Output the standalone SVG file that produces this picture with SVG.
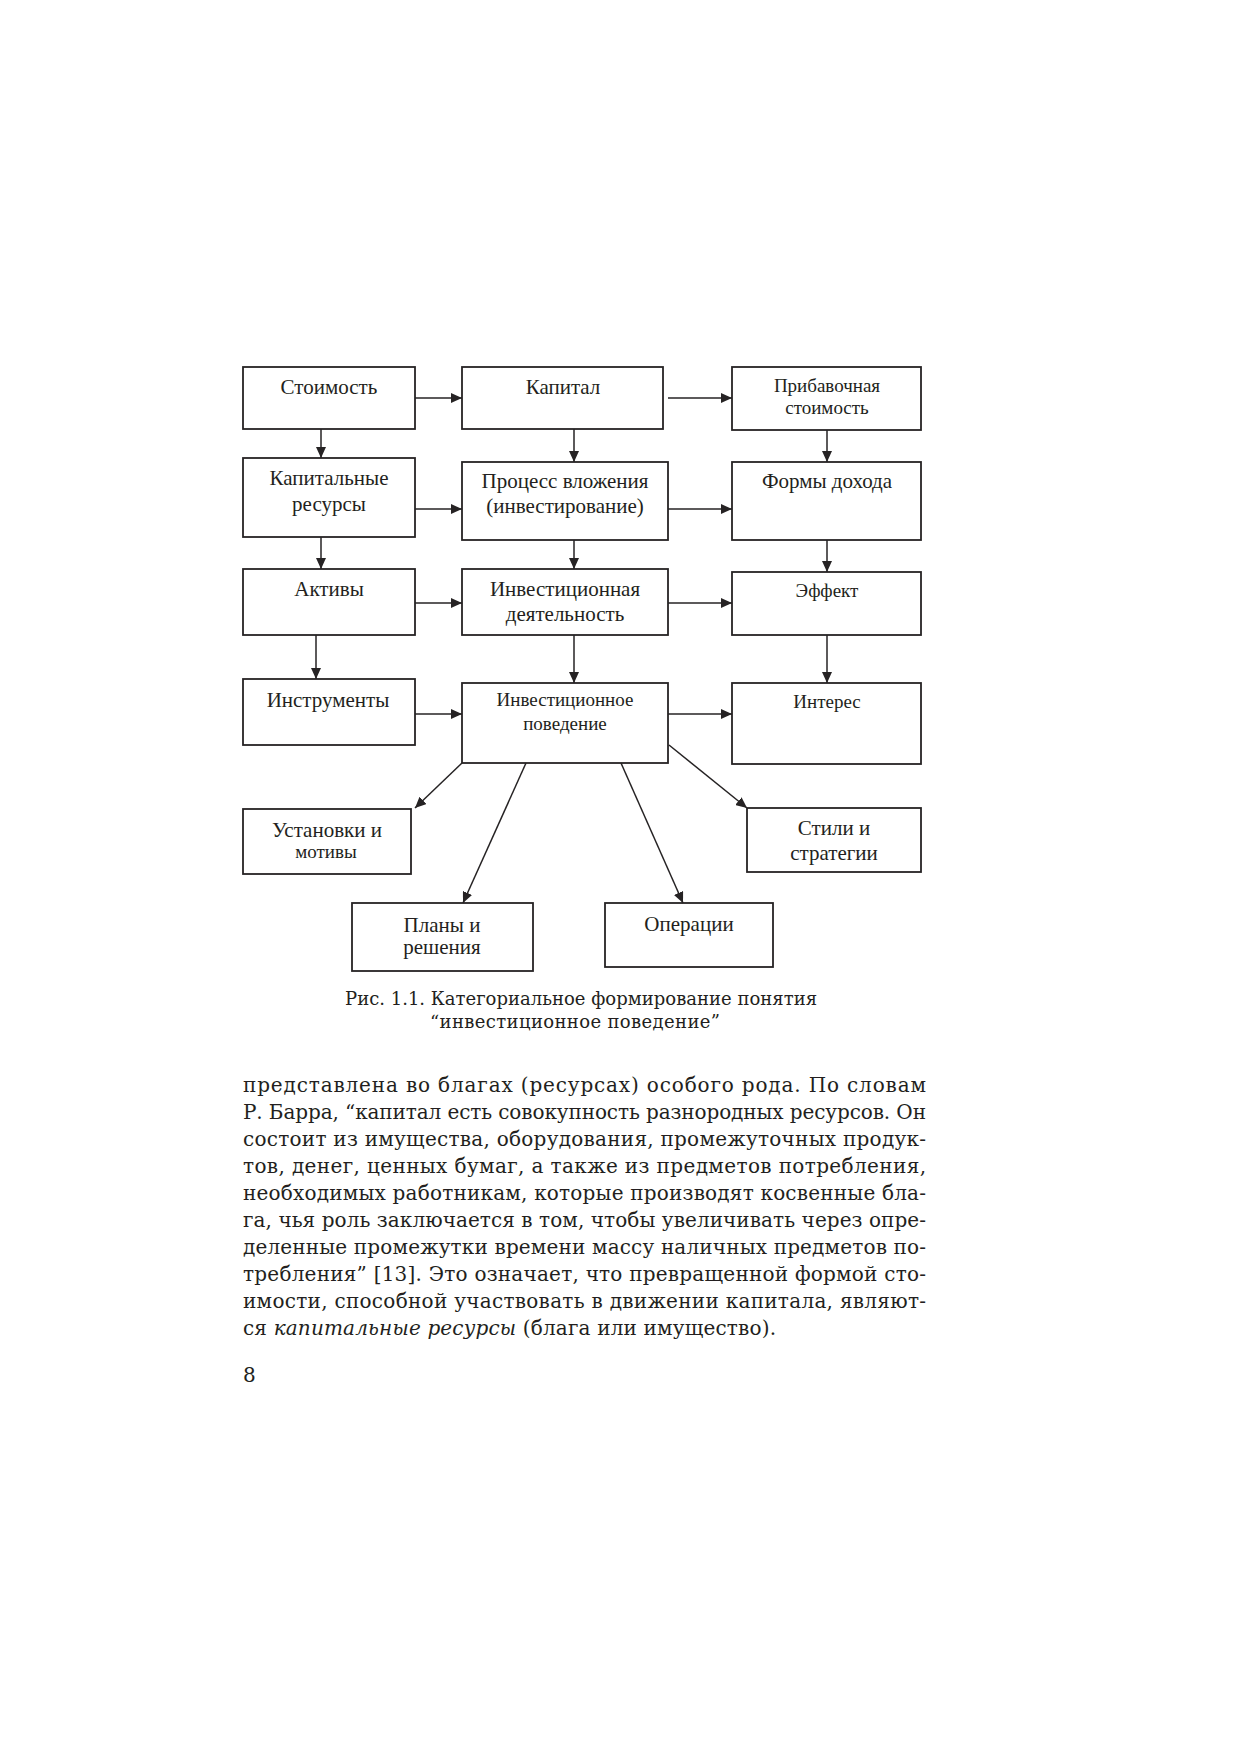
<svg xmlns="http://www.w3.org/2000/svg" width="1240" height="1755" viewBox="0 0 1240 1755">
<style>
.box{fill:#fff;stroke:#262324;stroke-width:1.8}
.t{font-family:"Liberation Serif","Times New Roman",serif;font-size:21px;fill:#231f20;text-anchor:middle}
.s{font-size:19px}
.c{stroke:#262324;stroke-width:1.5;fill:none;marker-end:url(#ah)}
.body{font-family:"DejaVu Serif","Liberation Serif",serif;font-size:20px;fill:#231f20}
.cap{font-family:"DejaVu Serif","Liberation Serif",serif;font-size:18px;fill:#231f20}
</style>
<defs>
<marker id="ah" markerUnits="userSpaceOnUse" markerWidth="11" markerHeight="10" refX="11" refY="5" orient="auto">
<path d="M0,0 L11,5 L0,10 z" fill="#262324"/>
</marker>
</defs>
<rect width="1240" height="1755" fill="#fff"/>
<g id="n1"><rect class="box" x="243" y="367" width="172" height="62"/><text class="t" x="329" y="394">Стоимость</text></g>
<g id="n2"><rect class="box" x="462" y="367" width="201" height="62"/><text class="t" x="563" y="394">Капитал</text></g>
<g id="n3"><rect class="box" x="732" y="367" width="189" height="63"/><text class="t s" x="827" y="392">Прибавочная</text><text class="t s" x="827" y="414">стоимость</text></g>
<g id="n4"><rect class="box" x="243" y="458" width="172" height="79"/><text class="t" x="329" y="485">Капитальные</text><text class="t" x="329" y="511">ресурсы</text></g>
<g id="n5"><rect class="box" x="462" y="462" width="206" height="78"/><text class="t" x="565" y="488">Процесс вложения</text><text class="t" x="565" y="513">(инвестирование)</text></g>
<g id="n6"><rect class="box" x="732" y="462" width="189" height="78"/><text class="t" x="827" y="488">Формы дохода</text></g>
<g id="n7"><rect class="box" x="243" y="569" width="172" height="66"/><text class="t" x="329" y="596">Активы</text></g>
<g id="n8"><rect class="box" x="462" y="569" width="206" height="66"/><text class="t" x="565" y="596">Инвестиционная</text><text class="t" x="565" y="621">деятельность</text></g>
<g id="n9"><rect class="box" x="732" y="572" width="189" height="63"/><text class="t s" x="827" y="597">Эффект</text></g>
<g id="n10"><rect class="box" x="243" y="679" width="172" height="66"/><text class="t" x="328" y="707">Инструменты</text></g>
<g id="n11"><rect class="box" x="462" y="683" width="206" height="80"/><text class="t s" x="565" y="706">Инвестиционное</text><text class="t s" x="565" y="730">поведение</text></g>
<g id="n12"><rect class="box" x="732" y="683" width="189" height="81"/><text class="t s" x="827" y="708">Интерес</text></g>
<g id="n13"><rect class="box" x="243" y="809" width="168" height="65"/><text class="t" x="327" y="837">Установки и</text><text class="t s" x="326" y="858">мотивы</text></g>
<g id="n14"><rect class="box" x="352" y="903" width="181" height="68"/><text class="t" x="442" y="932">Планы и</text><text class="t" x="442" y="954">решения</text></g>
<g id="n15"><rect class="box" x="605" y="903" width="168" height="64"/><text class="t" x="689" y="931">Операции</text></g>
<g id="n16"><rect class="box" x="747" y="808" width="174" height="64"/><text class="t" x="834" y="835">Стили и</text><text class="t" x="834" y="860">стратегии</text></g>
<g id="connectors">
<line class="c" x1="415" y1="398" x2="462" y2="398"/>
<line class="c" x1="668" y1="398" x2="732" y2="398"/>
<line class="c" x1="321" y1="429" x2="321" y2="458"/>
<line class="c" x1="574" y1="429" x2="574" y2="462"/>
<line class="c" x1="827" y1="430" x2="827" y2="462"/>
<line class="c" x1="415" y1="509" x2="462" y2="509"/>
<line class="c" x1="668" y1="509" x2="732" y2="509"/>
<line class="c" x1="321" y1="537" x2="321" y2="569"/>
<line class="c" x1="574" y1="540" x2="574" y2="569"/>
<line class="c" x1="827" y1="540" x2="827" y2="572"/>
<line class="c" x1="415" y1="603" x2="462" y2="603"/>
<line class="c" x1="668" y1="603" x2="732" y2="603"/>
<line class="c" x1="316" y1="635" x2="316" y2="679"/>
<line class="c" x1="574" y1="635" x2="574" y2="683"/>
<line class="c" x1="827" y1="635" x2="827" y2="683"/>
<line class="c" x1="415" y1="714" x2="462" y2="714"/>
<line class="c" x1="668" y1="714" x2="732" y2="714"/>
<line class="c" x1="462" y1="763" x2="415" y2="808"/>
<line class="c" x1="526" y1="763" x2="463" y2="903"/>
<line class="c" x1="621" y1="763" x2="683" y2="903"/>
<line class="c" x1="669" y1="745" x2="747" y2="808"/>
</g>
<g id="caption">
<text class="cap" x="345" y="1005" textLength="472" lengthAdjust="spacing">Рис. 1.1. Категориальное формирование понятия</text>
<text class="cap" x="430" y="1028" textLength="290" lengthAdjust="spacing">“инвестиционное поведение”</text>
</g>
<g id="body-text">
<text class="body" x="243" y="1092" textLength="683" lengthAdjust="spacing">представлена во благах (ресурсах) особого рода. По словам</text>
<text class="body" x="243" y="1119" textLength="683" lengthAdjust="spacing">Р. Барра, “капитал есть совокупность разнородных ресурсов. Он</text>
<text class="body" x="243" y="1146" textLength="683" lengthAdjust="spacing">состоит из имущества, оборудования, промежуточных продук-</text>
<text class="body" x="243" y="1173" textLength="683" lengthAdjust="spacing">тов, денег, ценных бумаг, а также из предметов потребления,</text>
<text class="body" x="243" y="1200" textLength="683" lengthAdjust="spacing">необходимых работникам, которые производят косвенные бла-</text>
<text class="body" x="243" y="1227" textLength="683" lengthAdjust="spacing">га, чья роль заключается в том, чтобы увеличивать через опре-</text>
<text class="body" x="243" y="1254" textLength="683" lengthAdjust="spacing">деленные промежутки времени массу наличных предметов по-</text>
<text class="body" x="243" y="1281" textLength="683" lengthAdjust="spacing">требления” [13]. Это означает, что превращенной формой сто-</text>
<text class="body" x="243" y="1308" textLength="683" lengthAdjust="spacing">имости, способной участвовать в движении капитала, являют-</text>
<text class="body" x="243" y="1335" textLength="533" lengthAdjust="spacing">ся <tspan font-style="italic">капитальные ресурсы</tspan> (блага или имущество).</text>
<text class="body" x="243" y="1382">8</text>
</g>
</svg>
